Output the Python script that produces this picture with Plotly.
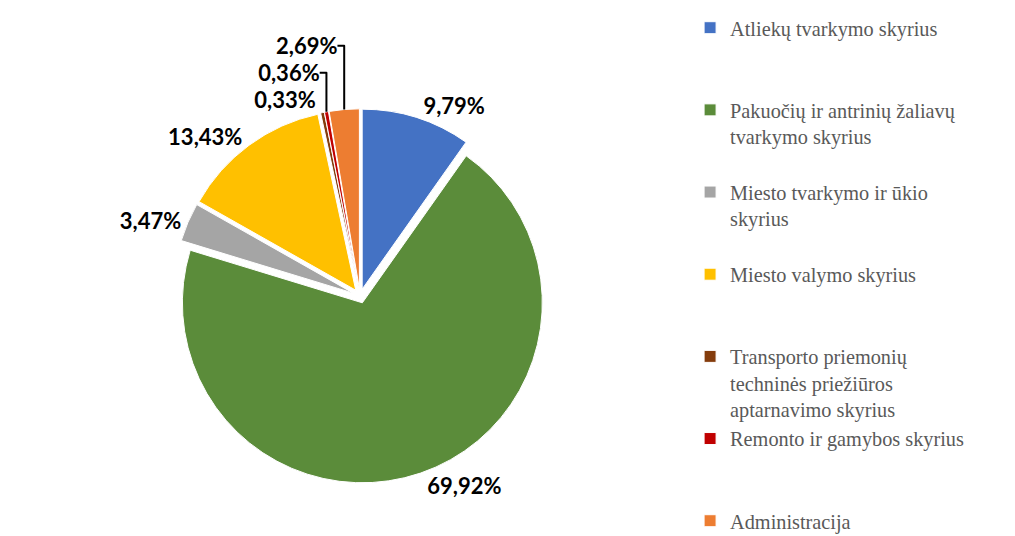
import plotly.graph_objects as go

categories = [
    "Atliekų tvarkymo skyrius",
    "Pakuočių ir antrinių žaliavų<br>tvarkymo skyrius",
    "Miesto tvarkymo ir ūkio<br>skyrius",
    "Miesto valymo skyrius",
    "Transporto priemonių<br>techninės priežiūros<br>aptarnavimo skyrius",
    "Remonto ir gamybos skyrius",
    "Administracija",
]
values = [9.79, 69.92, 3.47, 13.43, 0.33, 0.36, 2.69]
colors = ["#4472C4", "#5B8C3A", "#A5A5A5", "#FFC000", "#843C0C", "#C00000", "#ED7D31"]

# Legend slots of equal height (3 lines each), as in the original
slot_lines = 3
legend_labels = []
for i, c in enumerate(categories):
    n = c.count("<br>") + 1
    pad = max(slot_lines - n, 0) if i < len(categories) - 1 else 0
    legend_labels.append(c + "<br> " * pad)

fig = go.Figure(
    go.Pie(
        labels=legend_labels,
        values=values,
        sort=False,
        direction="clockwise",
        rotation=0,
        pull=[0.04] * len(values),
        marker=dict(colors=colors, line=dict(color="white", width=1)),
        texttemplate="%{value:.2f}%",
        textposition="outside",
        textfont=dict(family="Lato", size=22, color="#000000", weight="bold"),
        hoverinfo="skip",
        domain=dict(x=[0.1624, 0.5312], y=[0.1134, 0.812]),
    )
)

fig.update_layout(
    width=1015,
    height=536,
    separators=",.",
    paper_bgcolor="white",
    plot_bgcolor="white",
    margin=dict(l=0, r=0, t=0, b=0, autoexpand=False),
    legend=dict(
        x=0.672,
        y=1.0,
        xanchor="left",
        yanchor="top",
        valign="top",
        font=dict(family="Liberation Serif", size=20.3, color="#595959"),
        itemwidth=30,
        tracegroupgap=0,
    ),
)

fig.write_html("out.html")
